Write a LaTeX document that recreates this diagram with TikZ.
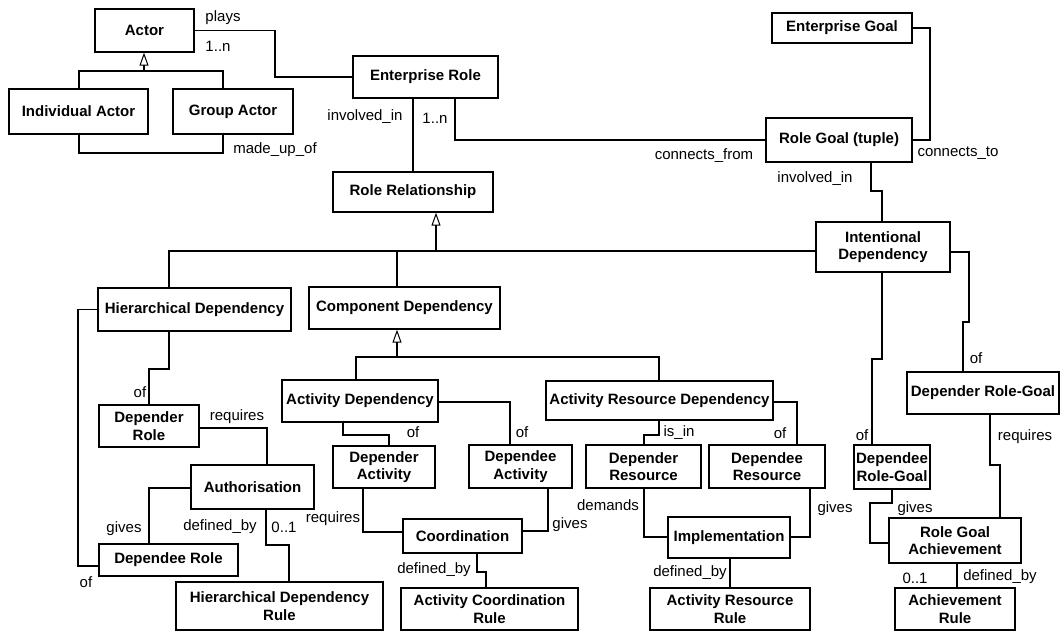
\documentclass[tikz,border=0pt]{standalone}
\usepackage{fontspec}
\setmainfont{Liberation Sans}
\usetikzlibrary{arrows.meta}

\begin{document}
\begin{tikzpicture}[x=1pt,y=-1pt,
  box/.style={draw, line width=1.3pt, fill=white, align=center, inner sep=0pt,
    font=\bfseries\fontsize{15}{17.5}\selectfont},
  lbl/.style={inner sep=0pt, font=\fontsize{15}{17}\selectfont},
  link/.style={line width=1.1pt},
  gen/.style={line width=1.1pt, -{Triangle[open,length=13pt,width=9pt,line width=1pt]}}]
\useasboundingbox (0,0) rectangle (1060,632);

% classes
\node[box, minimum width=99, minimum height=43] (actor) at (144.5,30.5) {Actor};
\node[box, minimum width=139, minimum height=45] (ind) at (78.5,111.5) {Individual Actor};
\node[box, minimum width=120, minimum height=45] (grp) at (233,111.5) {Group Actor};
\node[box, minimum width=145, minimum height=42] (erole) at (425.5,77) {Enterprise Role};
\node[box, minimum width=160, minimum height=40] (rrel) at (413,192) {Role Relationship};
\node[box, minimum width=140, minimum height=30] (egoal) at (842,28) {Enterprise Goal};
\node[box, minimum width=146, minimum height=44] (rgoal) at (839,140) {Role Goal (tuple)};
\node[box, minimum width=134, minimum height=50] (intent) at (883,247) {Intentional\\Dependency};
\node[box, minimum width=193, minimum height=43] (hier) at (194.5,309.5) {Hierarchical Dependency};
\node[box, minimum width=191, minimum height=42] (comp) at (404.5,308) {Component Dependency};
\node[box, minimum width=156, minimum height=42] (actdep) at (360,401) {Activity Dependency};
\node[box, minimum width=227, minimum height=39] (ard) at (659.5,400.5) {Activity Resource Dependency};
\node[box, minimum width=102, minimum height=42] (deprAct) at (384,467) {Depender\\Activity};
\node[box, minimum width=103, minimum height=43] (depeAct) at (520.5,466.5) {Dependee\\Activity};
\node[box, minimum width=115, minimum height=43] (deprRes) at (643.5,466.5) {Depender\\Resource};
\node[box, minimum width=116, minimum height=43] (depeRes) at (767,466.5) {Dependee\\Resource};
\node[box, minimum width=100, minimum height=42] (deprRole) at (149,426) {Depender\\Role};
\node[box, minimum width=123, minimum height=44] (auth) at (252.5,487) {Authorisation};
\node[box, minimum width=139, minimum height=32] (depeRole) at (168.5,560) {Dependee Role};
\node[box, minimum width=207, minimum height=48] (hdr) at (279.5,606) {Hierarchical Dependency\\Rule};
\node[box, minimum width=119, minimum height=34] (coord) at (462.5,536) {Coordination};
\node[box, minimum width=177, minimum height=42] (acr) at (489.5,609) {Activity Coordination\\Rule};
\node[box, minimum width=122, minimum height=41] (impl) at (729,537.5) {Implementation};
\node[box, minimum width=160, minimum height=42] (arr) at (730,609) {Activity Resource\\Rule};
\node[box, minimum width=152, minimum height=42] (deprRG) at (983,393) {Depender Role-Goal};
\node[box, minimum width=76, minimum height=44] (depeRG) at (892,467) {Dependee\\Role-Goal};
\node[box, minimum width=132, minimum height=45] (rga) at (955,540.5) {Role Goal\\Achievement};
\node[box, minimum width=120, minimum height=42] (achRule) at (955,609) {Achievement\\Rule};

% generalisations
\draw[link] (ind.north -| 79,0) -- (79,71) -- (223,71) -- (grp.north -| 223,0);
\draw[gen] (144,71) -- (actor.south -| 144,0);
\draw[link] (hier.north -| 169,0) -- (169,251) -- (intent.west |- 0,251);
\draw[link] (comp.north -| 397,0) -- (397,251);
\draw[gen] (436,251) -- (rrel.south -| 436,0);
\draw[link] (actdep.north -| 356,0) -- (356,357) -- (659,357) -- (ard.north -| 659,0);
\draw[gen] (397,357) -- (comp.south -| 397,0);

% associations
\draw[link] (actor.east) -| (275,77) -- (erole.west);
\draw[link] (ind.south -| 79,0) -- (79,153) -- (223,153) -- (grp.south -| 223,0);
\draw[link] (erole.south -| 413,0) -- (rrel.north -| 413,0);
\draw[link] (erole.south -| 455,0) |- (rgoal.west);
\draw[link] (egoal.east) -| (930,140) -- (rgoal.east);
\draw[link] (rgoal.south -| 871,0) -- (871,191) -- (882,191) -- (intent.north -| 882,0);
\draw[link] (hier.west) -- (78,309.5) -- (78,566) -- (depeRole.west |- 0,566);
\draw[link] (hier.south -| 169,0) -- (169,369) -- (149,369) -- (deprRole.north);
\draw[link] (deprRole.east |- 0,428) -- (267,428) -- (auth.north -| 267,0);
\draw[link] (auth.west |- 0,488) -- (149,488) -- (depeRole.north -| 149,0);
\draw[link] (auth.south -| 266,0) -- (266,545) -- (289,545) -- (hdr.north -| 289,0);
\draw[link] (actdep.south -| 343,0) -- (343,435) -- (389,435) -- (deprAct.north -| 389,0);
\draw[link] (actdep.east |- 0,402) -- (510,402) -- (depeAct.north -| 510,0);
\draw[link] (ard.south -| 659,0) -- (659,435) -- (644,435) -- (deprRes.north -| 644,0);
\draw[link] (ard.east |- 0,402) -- (797,402) -- (depeRes.north -| 797,0);
\draw[link] (deprAct.south -| 363,0) -- (363,532) -- (coord.west |- 0,532);
\draw[link] (depeAct.south -| 548,0) -- (548,531) -- (coord.east |- 0,531);
\draw[link] (coord.south -| 477,0) -- (477,572) -- (486,572) -- (acr.north -| 486,0);
\draw[link] (deprRes.south -| 644,0) -- (644,537) -- (impl.west |- 0,537);
\draw[link] (depeRes.south -| 810,0) -- (810,537) -- (impl.east |- 0,537);
\draw[link] (impl.south -| 730,0) -- (arr.north -| 730,0);
\draw[link] (intent.south -| 882,0) -- (882,359) -- (872,359) -- (depeRG.north -| 872,0);
\draw[link] (intent.east |- 0,252) -- (969,252) -- (969,322) -- (963,322) -- (deprRG.north -| 963,0);
\draw[link] (deprRG.south -| 990,0) -- (990,465) -- (1000,465) -- (rga.north -| 1000,0);
\draw[link] (depeRG.south -| 892,0) -- (892,503) -- (870,503) -- (870,543) -- (rga.west |- 0,543);
\draw[link] (rga.south -| 957,0) -- (achRule.north -| 957,0);

% role names and multiplicities
\node[lbl] (l1) at (223,18) {plays};
\node[lbl] (l2) at (218,46) {1..n};
\node[lbl] (l3) at (275,150) {made\_up\_of};
\node[lbl] (l4) at (365,117) {involved\_in};
\node[lbl] (l5) at (435,118) {1..n};
\node[lbl] (l6) at (704,156) {connects\_from};
\node[lbl] (l7) at (958,153) {connects\_to};
\node[lbl] (l8) at (815,179) {involved\_in};
\node[lbl] (l9) at (140,392) {of};
\node[lbl] (l10) at (237,417) {requires};
\node[lbl] (l11) at (124,529) {gives};
\node[lbl] (l12) at (220,527) {defined\_by};
\node[lbl] (l13) at (284,527) {0..1};
\node[lbl] (l14) at (86,582) {of};
\node[lbl] (l15) at (413,432) {of};
\node[lbl] (l16) at (522,432) {of};
\node[lbl] (l17) at (679,433) {is\_in};
\node[lbl] (l18) at (780,433) {of};
\node[lbl] (l19) at (333,519) {requires};
\node[lbl] (l20) at (570,525) {gives};
\node[lbl] (l21) at (434,570) {defined\_by};
\node[lbl] (l22) at (608,505) {demands};
\node[lbl] (l23) at (835,509) {gives};
\node[lbl] (l24) at (690,573) {defined\_by};
\node[lbl] (l25) at (862,435) {of};
\node[lbl] (l26) at (976,358) {of};
\node[lbl] (l27) at (1025,437) {requires};
\node[lbl] (l28) at (915,509) {gives};
\node[lbl] (l29) at (915,578) {0..1};
\node[lbl] (l30) at (1000,577) {defined\_by};
\end{tikzpicture}
\end{document}
